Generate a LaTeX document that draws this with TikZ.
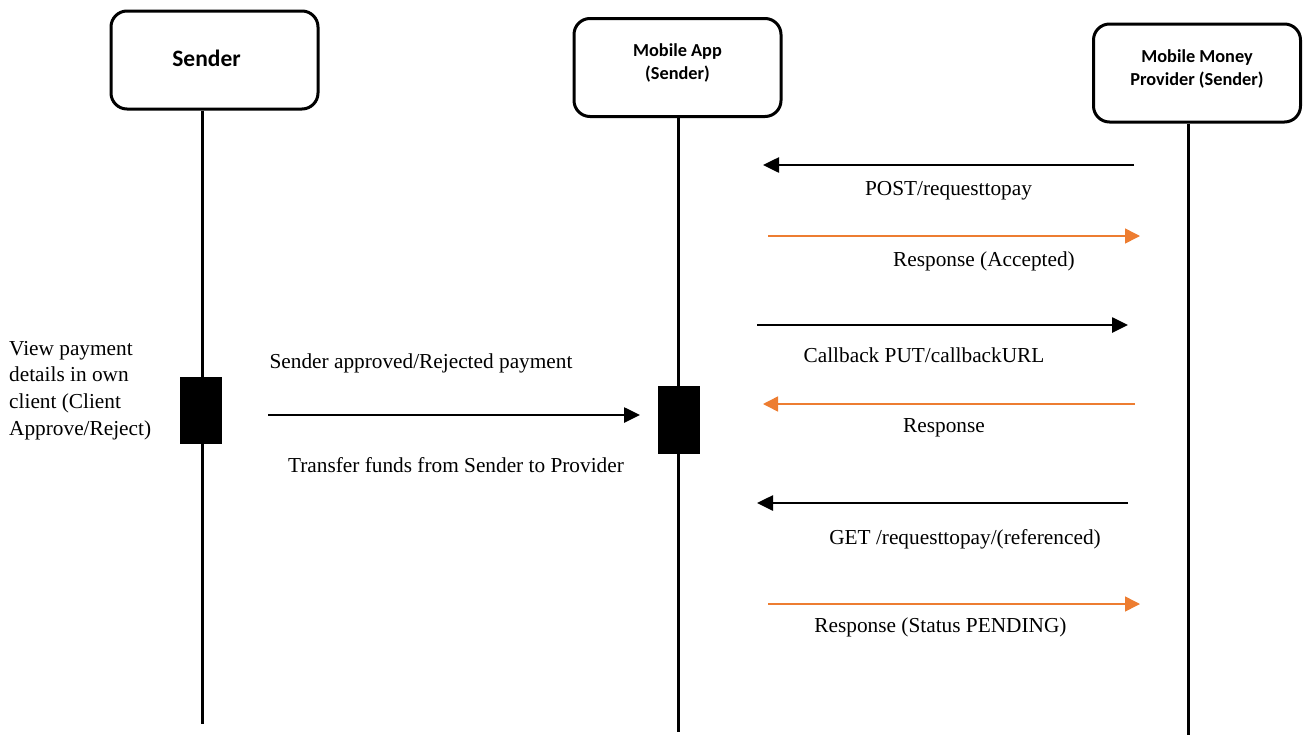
\documentclass[tikz,border=0pt]{standalone}
\usepackage{fontspec}
\setmainfont{Liberation Serif}
\newfontfamily\headfont{Carlito}
\usetikzlibrary{arrows.meta}
\definecolor{respcol}{HTML}{ED7D31}

\begin{document}
\begin{tikzpicture}
	[x=1pt,y=-1pt,
	actor/.style={draw,line width=3pt,rounded corners=16pt,minimum width=207pt,minimum height=98pt,align=center,text depth=12pt,font=\headfont\bfseries\fontsize{18.3}{23}\selectfont},
	bar/.style={fill=black,minimum width=42pt,minimum height=67pt,inner sep=0pt},
	life/.style={line width=3pt},
	call/.style={line width=2.6pt,-{Triangle[length=16pt,width=15pt]}},
	resp/.style={respcol,line width=1.5pt,-{Triangle[length=15pt,width=15pt]}},
	lbl/.style={anchor=base,inner sep=0pt,font=\fontsize{21.3}{26}\selectfont}]
    \useasboundingbox (0,0) rectangle (1304,742);

    % participants
    \node[actor,align=none,text depth=4pt,font=\headfont\bfseries\fontsize{23.5}{27}\selectfont] (S) at (214.5,60) {Sender\hspace*{16pt}};
    \node[actor] (M) at (677.5,67.5) {Mobile App\\(Sender)};
    \node[actor,text depth=10pt] (P) at (1197,73) {Mobile Money\\Provider (Sender)};

    % lifelines
    \coordinate (Se) at (202,724);
    \coordinate (Me) at (678,732);
    \coordinate (Pe) at (1188,735);
    \draw[life] (S.south -| Se) -- (Se);
    \draw[life] (M.south -| Me) -- (Me);
    \draw[life] (P.south -| Pe) -- (Pe);

    \node[bar] (SA) at (201,410.5) {};
    \node[bar,minimum height=68pt] (MA) at (679,420) {};

    \node[anchor=west,align=left,inner sep=0pt,font=\fontsize{21.3}{26.8}\selectfont] (note) at (9,390.5)
      {View payment\\details in own\\client (Client\\Approve/Reject)};

    % messages
    \coordinate (a1) at (1134,165);  \coordinate (a2) at (763,165);
    \coordinate (b1) at (768,236);   \coordinate (b2) at (1140,236);
    \coordinate (c1) at (757,325);   \coordinate (c2) at (1128,325);
    \coordinate (d1) at (1135,404);  \coordinate (d2) at (763,404);
    \coordinate (e1) at (268,415);   \coordinate (e2) at (640,415);
    \coordinate (f1) at (1128,503);  \coordinate (f2) at (757,503);
    \coordinate (g1) at (768,604);   \coordinate (g2) at (1140,604);

    \draw[call] (a1) -- (a2);
    \draw[resp] (b1) -- (b2);
    \draw[call] (c1) -- (c2);
    \draw[resp] (d1) -- (d2);
    \draw[call] (e1) -- (e2);
    \draw[call] (f1) -- (f2);
    \draw[resp] (g1) -- (g2);

    \node[lbl] (la) at (948.5,195) {POST/requesttopay};
    \node[lbl] (lb) at (984,266) {Response (Accepted)};
    \node[lbl] (lc) at (924,362) {Callback PUT/callbackURL};
    \node[lbl] (ld) at (944,432) {Response};
    \node[lbl] (le) at (421,368) {Sender approved/Rejected payment};
    \node[lbl] (lf) at (456,472) {Transfer funds from Sender to Provider};
    \node[lbl] (lg) at (965,544) {GET /requesttopay/(referenced)};
    \node[lbl] (lh) at (940.5,632) {Response (Status PENDING)};

\end{tikzpicture}
\end{document}
